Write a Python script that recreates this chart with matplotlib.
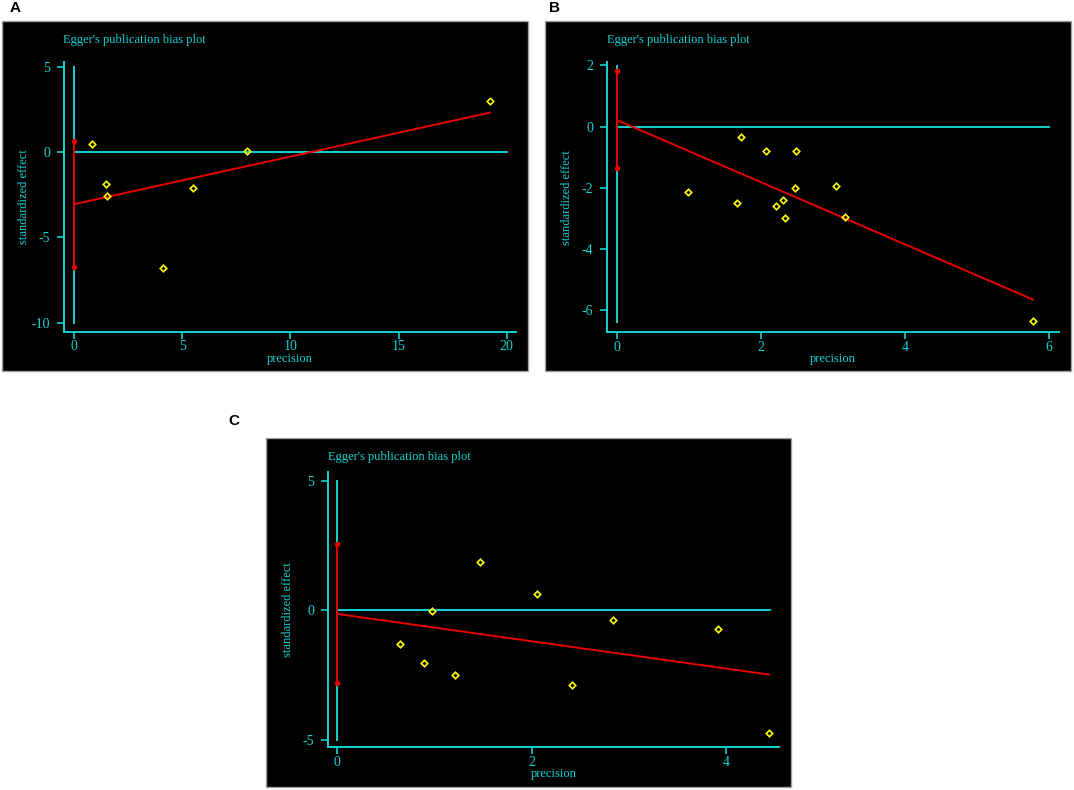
import numpy as np
import matplotlib.pyplot as plt
from matplotlib.patches import Rectangle

plt.rcParams['axes.unicode_minus'] = False

# ---- panel A ----
prec_a = [0.85, 1.46, 1.52, 4.09, 5.51, 8.0, 19.23]
eff_a = [0.49, -1.85, -2.55, -6.77, -2.10, 0.10, 3.02]
egger_a = (-3.05, 0.2798)      # intercept, slope
ci_a = (-6.75, 0.64)
xticks_a = [0, 5, 10, 15, 20]
yticks_a = [-10, -5, 0, 5]

# ---- panel B ----
prec_b = [0.99, 1.67, 1.72, 2.07, 2.21, 2.30, 2.33, 2.47, 2.49, 3.04, 3.17, 5.78]
eff_b = [-2.13, -2.49, -0.35, -0.79, -2.61, -2.41, -3.00, -2.02, -0.79, -1.96, -2.96, -6.37]
egger_b = (0.21, -1.0156)
ci_b = (-1.36, 1.82)
xticks_b = [0, 2, 4, 6]
yticks_b = [-6, -4, -2, 0, 2]

# ---- panel C ----
prec_c = [0.65, 0.89, 0.97, 1.21, 1.47, 2.05, 2.41, 2.84, 3.92, 4.44]
eff_c = [-1.31, -2.04, -0.01, -2.48, 1.88, 0.62, -2.87, -0.36, -0.71, -4.73]
egger_c = (-0.14, -0.526)
ci_c = (-2.81, 2.55)
xticks_c = [0, 2, 4]
yticks_c = [-5, 0, 5]

title = "Egger's publication bias plot"
cyan = '#14d2d2'
red = '#e60000'
yellow = '#ffff00'
serif = 'Liberation Serif'

W, H = 1074, 790
fig = plt.figure(figsize=(W / 100, H / 100), dpi=100)


def fx(x):
    return x / W


def fy(y):
    return 1 - y / H


def panel(letter, letter_xy, box, axbox, title_xy, prec, eff, egger, ci,
          vline, hline_end, xlim, ylim, xticks, yticks):
    x0, y0, x1, y1 = box
    fig.add_artist(Rectangle((fx(x0), fy(y1)), (x1 - x0) / W, (y1 - y0) / H,
                             transform=fig.transFigure, facecolor='black',
                             edgecolor='#a0a0a0', lw=1, zorder=-5))
    fig.text(fx(letter_xy[0]), fy(letter_xy[1]), letter, fontsize=11,
             weight='bold', family='Liberation Sans', va='center', ha='left')
    fig.text(fx(title_xy[0]), fy(title_xy[1]), title, color=cyan, fontsize=9,
             family=serif, va='center', ha='left')

    l, t, r, b = axbox
    ax = fig.add_axes([fx(l), fy(b), (r - l) / W, (b - t) / H])
    ax.set_facecolor('black')
    ax.plot([0, 0], vline, color=cyan, lw=1.4)
    ax.plot([0, hline_end], [0, 0], color=cyan, lw=1.4)
    xs = np.array([0, max(prec)])
    ax.plot(xs, egger[0] + egger[1] * xs, color=red, lw=1.4)
    ax.plot([0, 0], ci, color=red, lw=1.4, marker='o', ms=3)
    ax.plot(prec, eff, ls='none', marker='D', ms=3.3, mfc='none',
            mec=yellow, mew=1.2)

    ax.set_xlim(xlim)
    ax.set_ylim(ylim)
    ax.set_xticks(xticks)
    ax.set_yticks(yticks)
    for s in ['top', 'right']:
        ax.spines[s].set_visible(False)
    for s in ['left', 'bottom']:
        ax.spines[s].set_color(cyan)
        ax.spines[s].set_linewidth(1.4)
    ax.tick_params(colors=cyan, direction='out', length=5, width=1.2,
                   labelsize=10)
    ax.tick_params(axis='x', pad=1)
    ax.tick_params(axis='y', pad=5)
    for lab in ax.get_xticklabels() + ax.get_yticklabels():
        lab.set_family(serif)
    ax.set_ylabel('standardized effect', color=cyan, fontsize=9, family=serif,
                  va='center')
    ax.yaxis.set_label_coords(-40 / (r - l), 0.5)
    ax.set_xlabel('precision', color=cyan, fontsize=9, family=serif,
                  va='center')
    ax.xaxis.set_label_coords(0.5, -27 / (b - t))
    return ax


panel('A', (10, 8.5), (2, 21, 528, 371), (64.3, 62, 516, 332), (63, 40),
      prec_a, eff_a, egger_a, ci_a, (-10, 5), 20,
      (-0.45, 20.43), (-10.55, 5.3), xticks_a, yticks_a)

panel('B', (549, 8.5), (545, 21, 1071, 371), (607, 62, 1059.3, 332.3), (606.7, 40),
      prec_b, eff_b, egger_b, ci_b, (-6.4, 1.98), 6,
      (-0.139, 6.146), (-6.73, 2.11), xticks_b, yticks_b)

panel('C', (228, 421), (265.7, 437.7, 790.7, 786.7), (328, 472.3, 779.3, 747.3), (327.7, 457.3),
      prec_c, eff_c, egger_c, ci_c, (-5, 5), 4.45,
      (-0.096, 4.548), (-5.28, 5.32), xticks_c, yticks_c)

plt.savefig('out.png', dpi=100)
